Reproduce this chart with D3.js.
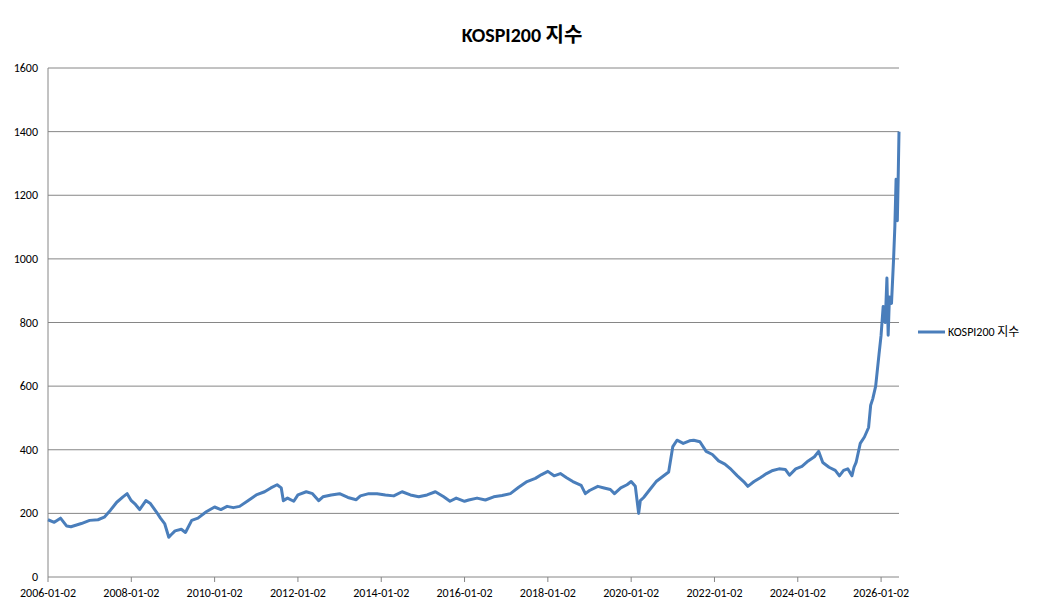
<!DOCTYPE html>
<html><head><meta charset="utf-8">
<script src="https://cdn.jsdelivr.net/npm/d3@7"></script>
<style>body{margin:0;background:#fff}text{font-family:Calibri,"Liberation Sans","Noto Sans CJK KR",sans-serif}</style>
</head><body><svg id="c" width="1044" height="610"></svg>
<script>
const tickLabels=["2006-01-02","2008-01-02","2010-01-02","2012-01-02","2014-01-02","2016-01-02","2018-01-02","2020-01-02","2022-01-02","2024-01-02","2026-01-02"];
const years=[2006.0,2006.15,2006.3,2006.45,2006.55,2006.8,2007.0,2007.2,2007.35,2007.5,2007.65,2007.8,2007.9,2008.0,2008.1,2008.2,2008.35,2008.45,2008.6,2008.7,2008.8,2008.9,2008.95,2009.05,2009.2,2009.3,2009.45,2009.6,2009.8,2010.0,2010.15,2010.3,2010.45,2010.6,2010.8,2011.0,2011.2,2011.35,2011.5,2011.6,2011.65,2011.75,2011.9,2012.0,2012.2,2012.35,2012.5,2012.6,2012.8,2013.0,2013.2,2013.4,2013.5,2013.7,2013.9,2014.1,2014.3,2014.5,2014.7,2014.9,2015.1,2015.3,2015.5,2015.65,2015.8,2016.0,2016.1,2016.3,2016.5,2016.7,2016.9,2017.1,2017.3,2017.5,2017.7,2017.85,2018.0,2018.15,2018.3,2018.45,2018.6,2018.8,2018.9,2019.0,2019.2,2019.35,2019.5,2019.6,2019.75,2019.9,2020.0,2020.1,2020.18,2020.22,2020.3,2020.45,2020.6,2020.75,2020.9,2021.0,2021.1,2021.25,2021.4,2021.5,2021.65,2021.8,2021.95,2022.1,2022.25,2022.4,2022.55,2022.7,2022.8,2022.95,2023.1,2023.25,2023.4,2023.55,2023.7,2023.8,2023.95,2024.1,2024.25,2024.4,2024.5,2024.6,2024.75,2024.9,2025.0,2025.1,2025.2,2025.3,2025.35,2025.4,2025.5,2025.6,2025.7,2025.75,2025.8,2025.87,2025.95,2026.0,2026.05,2026.1,2026.14,2026.17,2026.2,2026.25,2026.3,2026.33,2026.36,2026.39,2026.41,2026.43];
const values=[180,172,185,160,158,168,178,180,188,210,235,252,262,240,228,212,240,232,205,185,168,125,132,145,150,140,178,185,205,220,212,222,218,222,240,258,268,280,290,280,240,248,238,258,268,262,240,252,258,262,250,243,255,262,262,258,255,268,258,252,258,268,252,238,248,238,242,248,242,252,256,262,282,300,310,322,332,318,325,312,300,288,262,272,285,280,275,262,280,290,300,285,200,240,250,275,300,315,330,410,430,420,428,430,425,395,385,365,355,338,318,300,285,300,312,325,335,340,338,320,340,348,365,378,395,360,345,335,318,335,340,318,345,360,420,440,470,540,560,600,700,760,850,800,940,760,880,860,1000,1100,1250,1120,1250,1400];
const svg=d3.select("#c");
const x0=48,x1=899,yTop=68,yBot=577;
const x=d3.scaleLinear().domain([2006,2026.43]).range([x0,x1]);
const y=d3.scaleLinear().domain([0,1600]).range([yBot,yTop]);
const yt=d3.range(0,1601,200);
svg.append("g").selectAll("line").data(yt.slice(1)).join("line")
 .attr("x1",x0).attr("x2",x1).attr("y1",d=>y(d)).attr("y2",d=>y(d)).attr("stroke","#868686");
svg.append("g").selectAll("text").data(yt).join("text").attr("x",38).attr("y",d=>y(d)+4)
 .attr("text-anchor","end").attr("font-size",12).text(d=>d);
svg.append("line").attr("x1",x0).attr("x2",x0).attr("y1",yTop).attr("y2",yBot).attr("stroke","#868686");
svg.append("line").attr("x1",x0).attr("x2",x1).attr("y1",yBot).attr("y2",yBot).attr("stroke","#868686");
const tv=tickLabels.map((t,i)=>2006+2*i);
svg.append("g").selectAll("line").data(tv).join("line").attr("x1",d=>x(d)).attr("x2",d=>x(d))
 .attr("y1",yBot).attr("y2",yBot+5).attr("stroke","#868686");
svg.append("g").selectAll("text").data(tickLabels).join("text").attr("x",(d,i)=>x(tv[i])).attr("y",yBot+20)
 .attr("text-anchor","middle").attr("font-size",12).text(d=>d);
svg.append("path").datum(years.map((t,i)=>[t,values[i]])).attr("fill","none").attr("stroke","#4a7ebb")
 .attr("stroke-width",3).attr("stroke-linejoin","round").attr("d",d3.line().x(d=>x(d[0])).y(d=>y(d[1])));
svg.append("text").attr("x",522).attr("y",42).attr("text-anchor","middle").attr("font-size",20).attr("font-weight","bold").text("KOSPI200 지수");
svg.append("line").attr("x1",918).attr("x2",945).attr("y1",332).attr("y2",332).attr("stroke","#4a7ebb").attr("stroke-width",3);
svg.append("text").attr("x",948).attr("y",336).attr("font-size",12).text("KOSPI200 지수");
</script></body></html>
